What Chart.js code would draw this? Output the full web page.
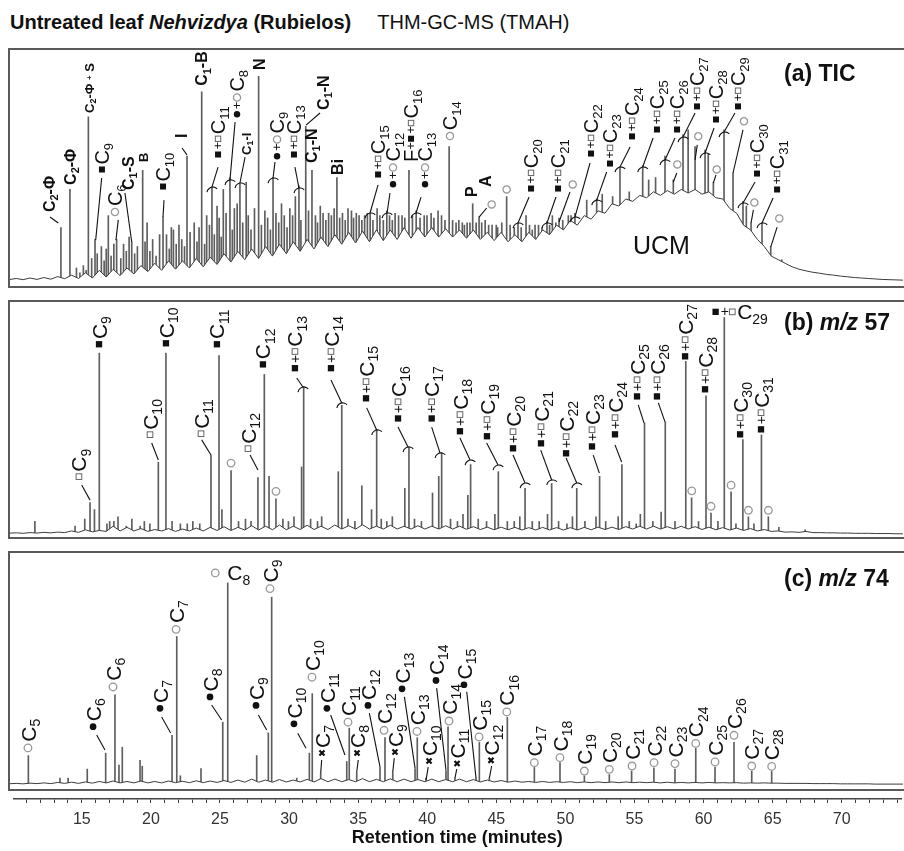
<!DOCTYPE html>
<html>
<head>
<meta charset="utf-8">
<script src="https://cdn.jsdelivr.net/npm/chart.js@4.4.1/dist/chart.umd.min.js"></script>
<style>
  html, body { margin: 0; padding: 0; background: #fff; overflow: hidden; }
  body { width: 904px; height: 851px; position: relative; font-family: "Liberation Sans", Arial, sans-serif; }
  #title { position: absolute; left: 10px; top: 11px; font-size: 20px; line-height: 22px; color: #111; white-space: nowrap; }
  #title span { margin-left: 26px; font-weight: normal; }
  canvas { position: absolute; }
</style>
</head>
<body>
<div id="title"><b>Untreated leaf <i>Nehvizdya</i> (Rubielos)</b><span>THM-GC-MS (TMAH)</span></div>
<canvas id="panelA" width="896" height="240" style="left:8px;top:48px"></canvas>
<canvas id="panelB" width="896" height="239" style="left:8px;top:300px"></canvas>
<canvas id="panelC" width="896" height="240" style="left:8px;top:551px"></canvas>
<canvas id="axis" width="891" height="56" style="left:13px;top:795px"></canvas>
<script>
// retention time (min) of the sampled baseline trace, shared by the three panels
const traceTimes = [
  9.6, 10.25, 10.75, 11.25, 11.75, 12.25, 12.75, 13.25, 13.75, 14.25,
  14.75, 15.25, 15.75, 16.25, 16.75, 17.25, 17.75, 18.25, 18.75, 19.25,
  19.75, 20.25, 20.75, 21.25, 21.75, 22.25, 22.75, 23.25, 23.75, 24.25,
  24.75, 25.25, 25.75, 26.25, 26.75, 27.25, 27.75, 28.25, 28.75, 29.25,
  29.75, 30.25, 30.75, 31.25, 31.75, 32.25, 32.75, 33.25, 33.75, 34.25,
  34.75, 35.25, 35.75, 36.25, 36.75, 37.25, 37.75, 38.25, 38.75, 39.25,
  39.75, 40.25, 40.75, 41.25, 41.75, 42.25, 42.75, 43.25, 43.75, 44.25,
  44.75, 45.25, 45.75, 46.25, 46.75, 47.25, 47.75, 48.25, 48.75, 49.25,
  49.75, 50.25, 50.75, 51.25, 51.75, 52.25, 52.75, 53.25, 53.75, 54.25,
  54.75, 55.25, 55.75, 56.25, 56.75, 57.25, 57.75, 58.25, 58.75, 59.25,
  59.75, 60.25, 60.75, 61.25, 61.75, 62.25, 62.75, 63.25, 63.75, 64.25,
  64.75, 65.25, 65.75, 66.25, 66.75, 67.25, 67.75, 68.25, 68.75, 69.25,
  69.75, 70.25, 70.75, 71.25, 71.75, 72.25, 72.75, 73.25, 73.75, 74.25,
];

// (a) TIC: baseline with noise and UCM hump (relative intensity, 0-100 of the panel)
const ticBase = [
  3, 3.6, 3.1, 3.8, 3.2, 4, 3.3, 4.4, 3.5, 5,
  3.6, 6, 3.8, 7, 4.2, 7.5, 4.8, 8, 5.5, 9,
  6.5, 10, 7, 11, 7.5, 11, 8, 12, 8.5, 12.5,
  9.5, 14, 10.5, 15, 11.5, 16, 12, 17, 13, 18,
  14, 19, 15, 20, 16, 21, 17, 22, 18, 23,
  18.5, 23.5, 19, 24, 19.5, 24, 20, 25, 20.5, 25,
  21, 25, 21, 24.5, 21, 24, 20.5, 24, 20, 23,
  19.5, 23, 19, 22, 19, 23, 20, 24, 22, 26,
  24, 28, 26, 30, 28.5, 32, 31, 35, 34, 37,
  36, 38.5, 37.5, 40, 38.5, 40.5, 39, 41, 39.5, 41,
  39, 40, 37.5, 37, 33, 31, 26, 24, 20, 17,
  13, 11.5, 10, 8.5, 7.5, 6.8, 6.2, 5.8, 5.3, 5,
  4.6, 4.3, 4, 3.8, 3.6, 3.4, 3.2, 3.1, 3, 2.9,
];
const ticPeakTimes = [
  13.48, 14.13, 15.46, 15.94, 16.4, 16.9, 17.5, 18.0, 18.59, 19.38,
  19.7, 20.85, 21.1, 21.6, 22.0, 22.58, 23.1, 23.64, 24.0, 24.38,
  24.75, 25.2, 25.68, 26.0, 26.4, 26.85, 27.75, 28.2, 28.79, 29.4,
  30.0, 30.4, 30.66, 31.15, 31.6, 32.2, 32.8, 33.4, 34.2, 34.8,
  35.4, 35.8, 36.3, 37.0, 37.6, 38.1, 38.6, 39.12, 39.7, 40.2,
  40.7, 41.5, 42.2, 42.8, 43.2, 43.66, 44.1, 44.9, 45.65, 46.47,
  47.05, 47.7, 48.56, 48.95, 49.43, 50.1, 50.58, 51.43, 52.15, 52.55,
  53.3, 53.83, 54.5, 55.47, 55.9, 56.4, 57.08, 57.68, 58.38, 58.75,
  59.25, 59.97, 60.2, 60.57, 61.34, 61.99, 62.71, 62.95, 63.29, 64.08,
  64.71, 65.5,
];
const ticPeakHeights = [
  25, 41, 71.5, 20, 17, 30, 20, 18, 19, 49,
  27, 29.5, 22, 24, 26, 55, 27, 82, 30, 42,
  34, 41, 46, 33, 43.5, 44, 88.5, 32, 46, 35,
  33, 38, 42.5, 67.5, 49, 34, 31, 46, 33, 31,
  30, 31, 33, 32, 31, 30, 49, 32, 30, 31,
  32, 59, 28, 27, 35, 29.5, 28, 26, 38, 27,
  30, 26, 27.5, 30, 29, 30, 31, 36.5, 37, 39,
  38, 50.5, 40, 51, 45, 46, 55, 45, 64, 66,
  59, 57.5, 56, 44, 66, 48, 36, 34, 27, 27,
  17, 11.5,
];
// dense small peaks of the noisy TIC region
const ticMinorTimes = [
  14.6, 14.85, 15.1, 15.3, 15.7, 16.1, 16.6, 16.75, 17.1, 17.3,
  17.8, 18.2, 18.4, 18.8, 19.0, 19.55, 19.9, 20.1, 20.35, 20.6,
  21.3, 21.45, 21.8, 22.2, 22.4, 22.8, 23.3, 23.45, 23.85, 24.2,
  24.55, 24.9, 25.05, 25.4, 25.85, 26.2, 26.6, 27.0, 27.2, 27.45,
  27.95, 28.4, 28.6, 29.0, 29.2, 29.6, 29.8, 30.2, 30.8, 31.35,
  31.85, 32.0, 32.4, 32.6, 33.0, 33.2, 33.6, 33.8, 34.0, 34.45,
  34.6, 35.0, 35.2, 35.6, 36.0, 36.5, 36.75, 37.2, 37.4, 37.85,
  38.3, 38.85, 39.4, 39.9, 40.4, 40.95, 41.2, 41.75, 42.0, 42.45,
  42.6, 43.0, 43.45, 43.85, 44.35, 44.6, 45.0, 45.3, 45.9, 46.2,
  46.7, 47.3, 47.5, 47.95, 48.2, 48.75, 49.2, 49.7, 50.3,
];
const ticMinorHeights = [
  8, 6, 9, 7, 12, 14, 11, 16, 13, 18,
  12, 15, 21, 14, 17, 19, 15, 20, 13, 22,
  16, 25, 18, 20, 17, 23, 19, 25, 18, 26,
  22, 29, 21, 31, 24, 35, 27, 30, 24, 33,
  26, 29, 24, 31, 27, 30, 25, 30, 28, 32,
  30, 27, 31, 28, 30, 33, 29, 31, 28, 32,
  29, 30, 28, 31, 28, 30, 28, 30, 28, 30,
  29, 30, 29, 30, 29, 30, 28, 28, 27, 27,
  26, 27, 27, 27, 26, 26, 25, 27, 26, 25,
  25, 26, 24, 26, 25, 26, 27, 28, 30,
];

// (b) m/z 57
const m57Base = [
  2, 2.2, 2, 2.3, 2.1, 2.4, 2.2, 2.5, 2.3, 3,
  2.4, 3.5, 2.6, 3.2, 2.8, 5, 3, 4.5, 3, 4,
  2.8, 3.6, 3, 4, 2.8, 3.8, 3, 4.2, 3, 4.5,
  3.2, 4.8, 3.2, 4.5, 3.4, 5.2, 3.4, 5, 3.5, 5.5,
  3.5, 5, 3.6, 5.4, 3.6, 5, 3.6, 5.5, 3.8, 5.2,
  3.8, 5.6, 3.8, 5, 3.8, 5.4, 3.8, 5, 3.8, 5.2,
  3.8, 5, 3.8, 5.2, 3.8, 5, 3.7, 4.8, 3.6, 4.6,
  3.5, 4.6, 3.5, 4.5, 3.4, 4.4, 3.4, 4.5, 3.4, 4.4,
  3.4, 4.4, 3.4, 4.5, 3.5, 4.6, 3.6, 4.6, 3.6, 4.8,
  3.8, 5, 3.8, 5, 3.8, 4.8, 3.8, 5, 3.8, 4.8,
  3.6, 4.6, 3.5, 4.4, 3.4, 4.2, 3.2, 4, 3, 3.6,
  2.8, 3, 2.5, 2.6, 2.4, 2.8, 2.3, 2.3, 2.2, 2.2,
  2.1, 2.1, 2, 2, 2, 1.9, 1.9, 1.9, 1.8, 1.8,
];
const m57PeakTimes = [
  11.6, 14.5, 15.58, 15.9, 16.25, 16.8, 17.3, 18.2, 19.2, 20.51,
  21.06, 22.6, 24.31, 24.89, 25.1, 25.76, 27.7, 28.16, 28.5, 29.0,
  30.3, 30.85, 31.0, 32.3, 33.5, 33.75, 35.2, 35.9, 36.27, 37.4,
  38.3, 38.6, 40.3, 40.75, 40.96, 42.5, 42.85, 43.05, 44.8, 45.05,
  46.6, 46.98, 48.6, 48.9, 50.4, 50.71, 52.1, 52.36, 53.7, 53.97,
  55.3, 55.6, 56.8, 57.1, 58.58, 59.0, 60.04, 60.4, 61.36, 61.85,
  62.7, 63.1, 64.04, 64.54, 65.3, 67.2,
];
const m57PeakHeights = [
  7, 5, 15, 12, 78, 6, 7, 5, 5, 32,
  78, 6, 35, 77, 12, 28.5, 25.5, 69, 26, 16.5,
  9, 30, 64, 9, 28, 56, 22, 12, 45.6, 9,
  21, 38.5, 19, 26, 36, 10, 18, 31, 10, 28,
  9, 21, 10, 23, 9, 21, 9, 26, 9, 31,
  10, 48.5, 11, 49, 74.5, 17, 60, 10.5, 93, 19.5,
  41.5, 9, 43.5, 9, 4.5, 3.5,
];
const m57MinorTimes = [
  15.2, 17.0, 17.6, 18.6, 19.5, 19.9, 21.5, 22.1, 23.0, 23.5,
  26.3, 26.8, 27.2, 29.5, 29.9, 31.5, 32.0, 34.2, 34.7, 36.6,
  37.0, 39.0, 39.5, 41.6, 42.1, 43.6, 44.2, 45.7, 46.2, 47.5,
  48.0, 49.4, 50.0, 51.3, 52.8, 54.5, 55.0, 56.2, 57.8, 59.5,
  60.9, 62.2, 63.5,
];
const m57MinorHeights = [
  8, 7, 9, 8, 7, 6, 7, 6, 7, 6,
  7, 8, 7, 8, 7, 8, 7, 8, 7, 8,
  7, 8, 7, 8, 7, 8, 7, 7, 7, 7,
  7, 7, 6, 7, 7, 7, 6, 7, 7, 7,
  7, 6, 6,
];

// (c) m/z 74
const m74Base = [
  2.6, 2.8, 2.6, 2.9, 2.7, 3, 2.7, 3.2, 2.8, 3.3,
  2.8, 3.4, 2.9, 3.6, 3, 3.8, 3, 3.6, 3, 3.8,
  3, 3.6, 3, 3.8, 3.1, 3.7, 3.1, 3.9, 3.1, 3.8,
  3.2, 4, 3.2, 4.2, 3.3, 4.6, 3.3, 4.2, 3.3, 4.4,
  3.4, 4.2, 3.4, 4.5, 3.4, 4.8, 3.5, 4.6, 3.5, 4.4,
  3.5, 4.8, 3.5, 4.5, 3.5, 4.7, 3.5, 4.6, 3.5, 4.4,
  3.5, 4.6, 3.5, 4.4, 3.5, 4.6, 3.5, 4.4, 3.4, 4.2,
  3.4, 4, 3.3, 3.8, 3.3, 3.6, 3.2, 3.6, 3.2, 3.5,
  3.2, 3.5, 3.1, 3.4, 3.1, 3.4, 3.1, 3.4, 3.1, 3.4,
  3.1, 3.3, 3.1, 3.3, 3, 3.3, 3, 3.2, 3, 3.2,
  3, 3.2, 3, 3.1, 3, 3.1, 2.9, 3, 2.9, 3,
  2.9, 2.9, 2.8, 2.8, 2.8, 2.8, 2.7, 2.7, 2.7, 2.7,
  2.6, 2.6, 2.6, 2.6, 2.6, 2.5, 2.5, 2.5, 2.5, 2.5,
];
const m74PeakTimes = [
  11.13, 13.41, 14.0, 15.38, 16.71, 17.38, 17.67, 17.91, 19.19, 19.35,
  21.5, 21.84, 22.1, 23.59, 25.16, 25.52, 27.61, 28.45, 28.69, 30.5,
  31.41, 31.62, 32.23, 34.11, 34.29, 34.83, 36.51, 36.87, 37.43, 39.04,
  39.2, 39.83, 41.27, 41.42, 41.92, 43.44, 43.68, 44.4, 45.7, 47.65,
  49.5, 51.26, 53.06, 54.67, 56.28, 57.8, 59.3, 60.69, 62.06, 63.34,
  64.78,
];
const m74PeakHeights = [
  14.5, 5, 5, 8.8, 15.5, 40, 10.5, 18, 12.5, 10,
  23, 64.5, 6, 9, 28.5, 87, 14.5, 24, 81, 5,
  15.5, 40.5, 7, 12, 26, 7.5, 9.5, 22, 7.5, 9,
  22, 5, 8.2, 26.5, 5, 5, 20, 5, 30.5, 9.5,
  11.5, 6, 6.5, 8, 9.3, 8.8, 17.5, 9.6, 20, 8,
  7.8,
];

// x axis
const xTickStep = 1;
const xLabelEvery = 5;
const xTitle = "Retention time (minutes)";

// peak annotations: [text, time, intensity, style, rotated]
// "_" starts a subscript, "*" toggles italic
const ticLabels = [
  ["C_2-Φ", 12.64, 31.5, "b", 1],
  ["C_2-Φ", 14.13, 42.9, "b", 1],
  ["C_2-Φ + S", 15.51, 73.1, "s", 1],
  ["■C_9", 16.44, 47.9, "a", 1],
  ["○C_6", 17.38, 29.8, "a", 1],
  ["C_1-S", 18.32, 40.75, "b", 1],
  ["B", 19.4, 52.5, "s", 1],
  ["■C_10", 20.85, 40.75, "a", 1],
  ["I", 22.15, 62.6, "b", 1],
  ["C_1-B", 23.64, 84.5, "b", 1],
  ["■+□C_11", 24.82, 54.2, "a", 1],
  ["●+○C_8", 26.19, 71, "a", 1],
  ["C_1-I", 26.84, 55.5, "s", 1],
  ["N", 27.78, 91.2, "b", 1],
  ["●+○C_9", 29.08, 53.4, "a", 1],
  ["■+□C_13", 30.3, 54.2, "a", 1],
  ["C_1-N", 31.53, 52.1, "b", 1],
  ["C_1-N", 32.4, 74.4, "b", 1],
  ["Bi", 33.41, 47.1, "b", 1],
  ["■+□C_15", 36.37, 45.8, "a", 1],
  ["●+○C_12", 37.45, 41.6, "a", 1],
  ["F+■+□C_16", 38.75, 52.5, "a", 1],
  ["●+○C_13", 39.76, 41.6, "a", 1],
  ["○C_14", 41.56, 61.7, "a", 1],
  ["P", 43.08, 37.8, "b", 1],
  ["A", 44.09, 42, "b", 1],
  ["○", 44.57, 33, "a", 1],
  ["○", 45.65, 39.3, "a", 1],
  ["■+□C_20", 47.41, 39.9, "a", 1],
  ["■+□C_21", 49.36, 39.9, "a", 1],
  ["○", 50.42, 41.4, "a", 1],
  ["■+□C_22", 51.74, 54.6, "a", 1],
  ["■+□C_23", 53.11, 50.4, "a", 1],
  ["■+□C_24", 54.7, 61.8, "a", 1],
  ["■+□C_25", 56.5, 64.7, "a", 1],
  ["■+□C_26", 57.95, 64.7, "a", 1],
  ["○", 57.97, 49.8, "a", 1],
  ["■+□C_27", 59.39, 74.4, "a", 1],
  ["○", 59.48, 61.6, "a", 1],
  ["■+□C_28", 60.76, 68.9, "a", 1],
  ["○", 60.81, 47.7, "a", 1],
  ["■+□C_29", 62.35, 74.4, "a", 1],
  ["○", 62.78, 67.9, "a", 1],
  ["■+□C_30", 63.72, 46.2, "a", 1],
  ["○", 63.53, 33.8, "a", 1],
  ["■+□C_31", 65.17, 39.5, "a", 1],
  ["○", 65.33, 27.1, "a", 1],
  ["(a) TIC", 65.67, 89.9, "h", 0],
  ["UCM", 54.77, 17.6, "u", 0],
];
// leader lines: [t1, v1, t2, v2, bracket at the peak end]
const ticLeaders = [
  [12.69, 29.4, 13.29, 26.9, 0], [16.42, 45.8, 15.99, 19.7, 0], [17.62, 28.2, 17.45, 19.7, 0],
  [18.1, 39.5, 18.59, 18.9, 0], [20.92, 36.5, 20.85, 29.4, 0], [22.22, 58.4, 22.58, 55.5, 0],
  [24.82, 50.4, 24.38, 42, 1], [26.05, 69.3, 25.68, 45, 1], [26.77, 54.6, 26.4, 43.7, 1],
  [28.93, 52.5, 28.79, 45.8, 1], [30.37, 50.4, 30.66, 41.6, 1], [32.18, 73.1, 31.17, 68, 0],
  [36.37, 42.9, 35.79, 31.1, 1], [37.23, 39.5, 37.02, 31.1, 1], [39.47, 37.8, 39.11, 31.1, 1],
  [44.21, 33.2, 43.66, 29.4, 0], [47.27, 37.8, 46.47, 26.9, 1], [49.21, 37.8, 48.56, 26.9, 1],
  [50.22, 39.9, 49.43, 27.3, 0], [51.67, 52.1, 50.58, 29.4, 1], [52.87, 48.3, 52.15, 36.5, 1],
  [54.56, 58.8, 53.83, 50.4, 1], [56.22, 62.6, 55.47, 50.4, 1], [57.8, 62.6, 57.08, 53.4, 1],
  [57.93, 47.9, 57.68, 44.1, 0], [59.25, 73.1, 58.38, 63, 1], [59.41, 59.7, 59.25, 53.4, 0],
  [60.62, 66.8, 59.97, 56.3, 1], [60.76, 47.1, 60.57, 43.7, 0], [62.13, 73.1, 61.34, 65.1, 1],
  [62.71, 66, 61.99, 47.9, 0], [63.58, 44.1, 62.71, 35.3, 1], [63.46, 32.4, 63.29, 26.9, 0],
  [64.88, 37.4, 64.08, 26.9, 1], [65.17, 25.2, 64.71, 16.8, 0],
];

const m57Labels = [
  ["□C_9", 14.78, 24.5, "n", 1],
  ["■C_9", 16.23, 80.2, "n", 1],
  ["□C_10", 19.91, 42.2, "n", 1],
  ["■C_10", 21.06, 80.6, "n", 1],
  ["□C_11", 23.59, 42.6, "n", 1],
  ["■C_11", 24.74, 80.2, "n", 1],
  ["○", 25.76, 29.8, "n", 1],
  ["□C_12", 26.98, 36.3, "n", 1],
  ["■C_12", 28.06, 71.7, "n", 1],
  ["○", 29.0, 17.9, "n", 1],
  ["■+□C_13", 30.37, 70.1, "n", 1],
  ["■+□C_14", 32.97, 70.1, "n", 1],
  ["■+□C_15", 35.5, 57.4, "n", 1],
  ["■+□C_16", 37.81, 48.9, "n", 1],
  ["■+□C_17", 40.24, 48.9, "n", 1],
  ["■+□C_18", 42.28, 43.5, "n", 1],
  ["■+□C_19", 44.23, 41.4, "n", 1],
  ["■+□C_20", 46.11, 36.3, "n", 1],
  ["■+□C_21", 48.13, 38.4, "n", 1],
  ["■+□C_22", 49.94, 34.2, "n", 1],
  ["■+□C_23", 51.81, 37.1, "n", 1],
  ["■+□C_24", 53.47, 42.2, "n", 1],
  ["■+□C_25", 55.06, 58.2, "n", 1],
  ["■+□C_26", 56.5, 58.2, "n", 1],
  ["■+□C_27", 58.53, 75.1, "n", 1],
  ["○", 59.01, 18.1, "n", 1],
  ["■+□C_28", 59.97, 61.2, "n", 1],
  ["○", 60.4, 11.6, "n", 1],
  ["■+□C_29", 60.47, 95.4, "n", 0],
  ["○", 61.85, 20.5, "n", 1],
  ["■+□C_30", 62.5, 42.2, "n", 1],
  ["○", 63.1, 9.9, "n", 1],
  ["■+□C_31", 64.01, 44.3, "n", 1],
  ["○", 64.54, 9.9, "n", 1],
  ["(b) *m/z* 57", 65.67, 91.1, "h", 0],
];
const m57Leaders = [
  [14.98, 22.4, 15.58, 16.0, 0], [20.03, 40.1, 20.51, 32.9, 0], [23.64, 41.4, 24.31, 35.0, 0],
  [27.13, 35.0, 27.7, 28.7, 0], [30.5, 67.5, 30.95, 63.7, 1], [32.97, 66.7, 33.75, 57.0, 1],
  [35.55, 54.9, 36.27, 45.6, 1], [37.81, 46.8, 38.53, 38.4, 1], [40.24, 46.8, 40.84, 35.9, 1],
  [42.28, 42.2, 43.01, 32.9, 1], [44.21, 40.1, 45.03, 30.8, 1], [46.11, 35.0, 46.98, 23.2, 1],
  [48.11, 37.1, 48.9, 24.5, 1], [49.94, 33.8, 50.71, 23.2, 1], [51.9, 35.0, 52.34, 27.4, 0],
  [53.47, 39.3, 53.95, 32.1, 0], [55.15, 56.1, 55.57, 48.5, 0], [56.6, 57.0, 57.08, 49.0, 0],
];

const m74Labels = [
  ["○C_5", 11.1, 15.9, "n", 1],
  ["●C_6", 15.8, 25, "n", 1],
  ["○C_6", 17.24, 41.5, "n", 1],
  ["●C_7", 20.63, 32.7, "n", 1],
  ["○C_7", 21.79, 65.7, "n", 1],
  ["●C_8", 24.24, 37.5, "n", 1],
  ["○ C_8", 24.31, 91.2, "n", 0],
  ["●C_9", 27.56, 33.9, "n", 1],
  ["○C_9", 28.57, 82.8, "n", 1],
  ["●C_10", 30.3, 26.2, "n", 1],
  ["○C_10", 31.6, 45.6, "n", 1],
  ["×C_7", 32.32, 14.3, "n", 1],
  ["●C_11", 32.68, 32.7, "n", 1],
  ["○C_11", 34.2, 26.7, "n", 1],
  ["×C_8", 34.85, 14.3, "n", 1],
  ["●C_12", 35.64, 33.9, "n", 1],
  ["○C_12", 36.8, 23.3, "n", 1],
  ["×C_9", 37.59, 14.7, "n", 1],
  ["●C_13", 38.1, 40.9, "n", 1],
  ["○C_13", 39.18, 22.8, "n", 1],
  ["×C_10", 40.05, 10.9, "n", 1],
  ["●C_14", 40.55, 44.4, "n", 1],
  ["○C_14", 41.49, 27.2, "n", 1],
  ["×C_11", 42.07, 9.9, "n", 1],
  ["●C_15", 42.57, 42.6, "n", 1],
  ["○C_15", 43.66, 20.5, "n", 1],
  ["×C_12", 44.52, 11.2, "n", 1],
  ["○C_16", 45.66, 31.0, "n", 1],
  ["○C_17", 47.65, 9.7, "n", 1],
  ["○C_18", 49.5, 11.8, "n", 1],
  ["○C_19", 51.26, 6.2, "n", 1],
  ["○C_20", 53.06, 6.9, "n", 1],
  ["○C_21", 54.7, 8.3, "n", 1],
  ["○C_22", 56.29, 9.7, "n", 1],
  ["○C_23", 57.8, 9.3, "n", 1],
  ["○C_24", 59.3, 17.8, "n", 1],
  ["○C_25", 60.69, 10.0, "n", 1],
  ["○C_26", 62.06, 21.2, "n", 1],
  ["○C_27", 63.34, 8.3, "n", 1],
  ["○C_28", 64.78, 8.1, "n", 1],
  ["(c) *m/z* 74", 65.67, 89.0, "h", 0],
];
const m74Leaders = [
  [16.06, 23.1, 16.66, 16.8, 0], [20.75, 30.7, 21.4, 24.0, 0], [24.36, 35.7, 25.08, 29.4, 0],
  [27.73, 31.5, 28.33, 25.2, 0], [30.57, 23.9, 31.17, 17.6, 0], [32.3, 12.6, 32.23, 7.1, 0],
  [32.95, 31.5, 33.98, 14.7, 0], [34.94, 12.6, 34.83, 7.6, 0], [35.74, 32.3, 36.51, 9.7, 0],
  [37.54, 13.4, 37.43, 7.6, 0], [38.27, 39.1, 39.04, 9.2, 0], [39.99, 9.6, 39.83, 4.2, 0],
  [40.6, 42.8, 41.27, 8.4, 0], [42.05, 8.8, 41.92, 5.0, 0], [42.77, 41.3, 43.44, 5.0, 0],
  [44.57, 10.1, 44.4, 5.0, 0],
];

const FONT = '"Liberation Sans", Arial, sans-serif';
const INK = "#111";
const TRACE = "#3c3c3c";
const PEAK = "#5e5e5e";
const FRAME = "#5a5a5a";
const X_MIN = 9.66;
const X_MAX = 74.33;

const STYLES = {
  a: { size: 20, weight: "" },
  n: { size: 21, weight: "" },
  b: { size: 16, weight: "bold " },
  s: { size: 13, weight: "bold " },
  h: { size: 23, weight: "bold " },
  u: { size: 25, weight: "" },
};

// little marker glyphs, drawn as shapes; each returns the next pen position
const SYMBOLS = {
  "■": (ctx, pos, s) => {
    const q = s * 0.3;
    ctx.fillStyle = INK;
    ctx.fillRect(pos + 0.5, -q / 2, q, q);
    return pos + q + s * 0.12;
  },
  "□": (ctx, pos, s) => {
    const q = s * 0.27;
    ctx.strokeStyle = "#666";
    ctx.lineWidth = 1;
    ctx.strokeRect(pos + 0.5, -q / 2, q, q);
    return pos + q + s * 0.12;
  },
  "●": (ctx, pos, s) => {
    const d = s * 0.32;
    ctx.fillStyle = INK;
    ctx.beginPath();
    ctx.arc(pos + d / 2 + 0.5, 0, d / 2, 0, Math.PI * 2);
    ctx.fill();
    return pos + d + s * 0.12;
  },
  "○": (ctx, pos, s) => {
    const d = s * 0.36;
    ctx.strokeStyle = "#999";
    ctx.lineWidth = 1.3;
    ctx.beginPath();
    ctx.arc(pos + d / 2 + 0.5, 0, d / 2, 0, Math.PI * 2);
    ctx.stroke();
    return pos + d + s * 0.14;
  },
  "×": (ctx, pos, s) => {
    const q = s * 0.24;
    ctx.strokeStyle = INK;
    ctx.lineWidth = 2.2;
    ctx.beginPath();
    ctx.moveTo(pos + 0.5, -q / 2);
    ctx.lineTo(pos + 0.5 + q, q / 2);
    ctx.moveTo(pos + 0.5, q / 2);
    ctx.lineTo(pos + 0.5 + q, -q / 2);
    ctx.stroke();
    return pos + q + s * 0.14;
  },
};

function drawRich(ctx, px, py, text, styleKey, rotated) {
  const st = STYLES[styleKey];
  const s = st.size;
  const base = s * 0.36;
  let pos = 0;
  let italic = false;

  ctx.save();
  ctx.translate(px, py);
  if (rotated) ctx.rotate(-Math.PI / 2);
  ctx.textAlign = "left";
  ctx.textBaseline = "alphabetic";

  for (let i = 0; i < text.length; i++) {
    const ch = text[i];
    if (ch === "*") { italic = !italic; continue; }
    if (ch === "_") {
      let sub = "";
      while (i + 1 < text.length && /\d/.test(text[i + 1])) sub += text[++i];
      ctx.font = `${st.weight}${Math.round(s * 0.66)}px ${FONT}`;
      ctx.fillStyle = INK;
      ctx.fillText(sub, pos, base + s * 0.2);
      pos += ctx.measureText(sub).width;
      continue;
    }
    if (SYMBOLS[ch]) { pos = SYMBOLS[ch](ctx, pos, s); continue; }
    const isPlus = ch === "+";
    ctx.font = `${italic ? "italic " : ""}${st.weight}${isPlus ? Math.round(s * 0.65) : s}px ${FONT}`;
    ctx.fillStyle = INK;
    ctx.fillText(ch, pos, isPlus ? s * 0.22 : base);
    pos += ctx.measureText(ch).width;
  }
  ctx.restore();
}

function annotationPlugin(labels, leaders) {
  return {
    id: "peakLabels",
    afterDatasetsDraw(chart) {
      const { ctx, scales: { x, y } } = chart;
      ctx.save();
      ctx.strokeStyle = INK;
      ctx.lineWidth = 1.1;
      leaders.forEach(([t1, v1, t2, v2, bracket]) => {
        const x2 = x.getPixelForValue(t2);
        const y2 = y.getPixelForValue(v2);
        ctx.beginPath();
        ctx.moveTo(x.getPixelForValue(t1), y.getPixelForValue(v1));
        ctx.lineTo(x2, y2);
        ctx.stroke();
        if (bracket) {
          ctx.beginPath();
          ctx.arc(x2 + 1, y2 + 6, 6, Math.PI * 1.05, Math.PI * 1.75);
          ctx.stroke();
        }
      });
      labels.forEach(([text, t, v, style, rot]) => {
        drawRich(ctx, x.getPixelForValue(t), y.getPixelForValue(v), text, style, rot);
      });
      ctx.restore();
    },
  };
}

const framePlugin = {
  id: "frame",
  afterDraw(chart) {
    const { ctx, width, height } = chart;
    ctx.save();
    ctx.strokeStyle = FRAME;
    ctx.lineWidth = 2;
    ctx.beginPath();
    ctx.moveTo(width + 4, 1);
    ctx.lineTo(1, 1);
    ctx.lineTo(1, height - 1);
    ctx.lineTo(width + 4, height - 1);
    ctx.stroke();
    ctx.restore();
  },
};

function peakDataset(times, heights) {
  return {
    type: "bar",
    data: times.map((t, i) => ({ x: t, y: heights[i] })),
    backgroundColor: PEAK,
    borderWidth: 0,
    barThickness: 1,
    grouped: false,
    order: 1,
  };
}

function buildPanel(id, baseValues, peakSets, labels, leaders) {
  return new Chart(document.getElementById(id), {
    type: "bar",
    data: {
      datasets: [
        {
          type: "line",
          data: traceTimes.map((t, i) => ({ x: t, y: baseValues[i] })),
          borderColor: TRACE,
          borderWidth: 1,
          pointRadius: 0,
          tension: 0,
          fill: "origin",
          backgroundColor: "#fff",
          order: 0,
        },
        ...peakSets.map(([times, heights]) => peakDataset(times, heights)),
      ],
    },
    options: {
      responsive: false,
      animation: false,
      events: [],
      layout: { padding: 0 },
      plugins: { legend: { display: false }, tooltip: { enabled: false } },
      scales: {
        x: { type: "linear", min: X_MIN, max: X_MAX, offset: false, display: false, grid: { offset: false } },
        y: { min: -0.4, max: 100.4, display: false },
      },
    },
    plugins: [annotationPlugin(labels, leaders), framePlugin],
  });
}

buildPanel("panelA", ticBase, [[ticPeakTimes, ticPeakHeights], [ticMinorTimes, ticMinorHeights]], ticLabels, ticLeaders);
buildPanel("panelB", m57Base, [[m57PeakTimes, m57PeakHeights], [m57MinorTimes, m57MinorHeights]], m57Labels, m57Leaders);
buildPanel("panelC", m74Base, [[m74PeakTimes, m74PeakHeights]], m74Labels, m74Leaders);

new Chart(document.getElementById("axis"), {
  type: "line",
  data: { datasets: [{ data: [] }] },
  options: {
    responsive: false,
    animation: false,
    events: [],
    layout: { padding: 0 },
    plugins: { legend: { display: false }, tooltip: { enabled: false } },
    scales: {
      x: {
        type: "linear",
        min: 10.02,
        max: X_MAX,
        afterFit: scale => { scale.height = 52; },
        grid: { drawOnChartArea: false, drawTicks: true, tickLength: 4, color: "#444", lineWidth: 1 },
        border: { display: true, color: "#444", width: 1.5 },
        ticks: {
          stepSize: xTickStep,
          autoSkip: false,
          maxRotation: 0,
          includeBounds: false,
          padding: 7,
          color: "#333",
          font: { family: FONT, size: 16 },
          callback: value => (value % xLabelEvery === 0 && value >= 15 ? String(value) : ""),
        },
        title: {
          display: true,
          text: xTitle,
          color: INK,
          font: { family: FONT, size: 18, weight: "bold" },
          padding: { top: 0, bottom: 2 },
        },
      },
      y: { display: false },
    },
  },
});
</script>
</body>
</html>
